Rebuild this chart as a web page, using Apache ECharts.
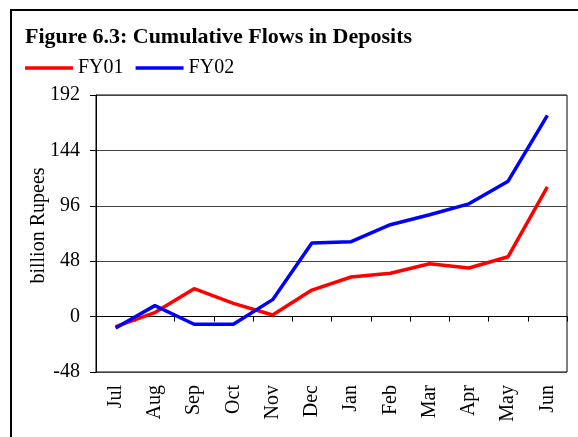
<!DOCTYPE html>
<html>
<head>
<meta charset="utf-8">
<script src="https://cdn.jsdelivr.net/npm/echarts@6/dist/echarts.min.js"></script>
<style>
  html, body { margin: 0; padding: 0; background: #fff; }
  #chart { width: 578px; height: 437px; }
</style>
</head>
<body>
<div id="chart"></div>
<script>
  var months = ['Jul', 'Aug', 'Sep', 'Oct', 'Nov', 'Dec', 'Jan', 'Feb', 'Mar', 'Apr', 'May', 'Jun'];
  var fy01 = [-8.6, 3.5, 24.2, 11.5, 1.4, 23, 34.3, 37.5, 45.8, 42.1, 51.9, 112.4];
  var fy02 = [-9.8, 9.5, -6.6, -6.6, 14.7, 63.7, 64.9, 79.6, 88.2, 97.7, 117.3, 174.4];
  var yTicks = [-48, 0, 48, 96, 144, 192];

  var serif = '"Liberation Serif", "DejaVu Serif", serif';
  var chart = echarts.init(document.getElementById('chart'));

  chart.setOption({
    animation: false,
    backgroundColor: '#fff',
    textStyle: { fontFamily: serif, color: '#000' },
    title: {
      text: 'Figure 6.3: Cumulative Flows in Deposits',
      left: 25,
      top: 26,
      padding: 0,
      textStyle: { fontFamily: serif, fontSize: 22, fontWeight: 'bold', color: '#000' }
    },
    legend: {
      left: 25,
      top: 58,
      padding: 0,
      icon: 'rect',
      itemWidth: 48,
      itemHeight: 3.5,
      itemGap: 12,
      textStyle: { fontFamily: serif, fontSize: 20, color: '#000' },
      data: ['FY01', 'FY02']
    },
    graphic: [{
      type: 'rect',
      shape: { x: 11, y: 10, width: 700, height: 600 },
      style: { fill: null, stroke: '#000', lineWidth: 2 },
      silent: true
    }],
    grid: {
      left: 96, right: 11, top: 95, bottom: 65,
      show: true, borderColor: '#000', borderWidth: 1
    },
    xAxis: [{
      type: 'category',
      data: months,
      position: 'bottom',
      axisLine: { onZero: true, lineStyle: { color: '#000', width: 1 } },
      axisTick: { show: true, inside: false, length: 5, lineStyle: { color: '#000' } },
      axisLabel: { show: false },
      splitLine: { show: false }
    }, {
      type: 'category',
      data: months,
      position: 'bottom',
      axisLine: { show: false, onZero: false },
      axisTick: { show: false },
      axisLabel: { show: true, rotate: 90, margin: 13, fontFamily: serif, fontSize: 20, color: '#000' },
      splitLine: { show: false }
    }],
    yAxis: {
      type: 'value',
      min: yTicks[0],
      max: yTicks[yTicks.length - 1],
      interval: 48,
      name: 'billion Rupees',
      nameLocation: 'middle',
      nameRotate: 90,
      nameGap: 47,
      nameMoveOverlap: false,
      nameTextStyle: { fontFamily: serif, fontSize: 20, color: '#000', padding: [0, 0, 0, 16] },
      axisLine: { show: true, lineStyle: { color: '#000', width: 1 } },
      axisTick: { show: true, length: 6, lineStyle: { color: '#000' } },
      axisLabel: { fontFamily: serif, fontSize: 20, color: '#000', margin: 16 },
      splitLine: { show: true, lineStyle: { color: '#444', width: 1 } }
    },
    series: [{
      name: 'FY01',
      type: 'line',
      xAxisIndex: 0,
      data: fy01,
      symbol: 'none',
      color: '#ff0000',
      lineStyle: { width: 3.5, color: '#ff0000' },
      z: 3
    }, {
      name: 'FY02',
      type: 'line',
      xAxisIndex: 0,
      data: fy02,
      symbol: 'none',
      color: '#0000ff',
      lineStyle: { width: 3.5, color: '#0000ff' },
      z: 4
    }]
  });
</script>
</body>
</html>
